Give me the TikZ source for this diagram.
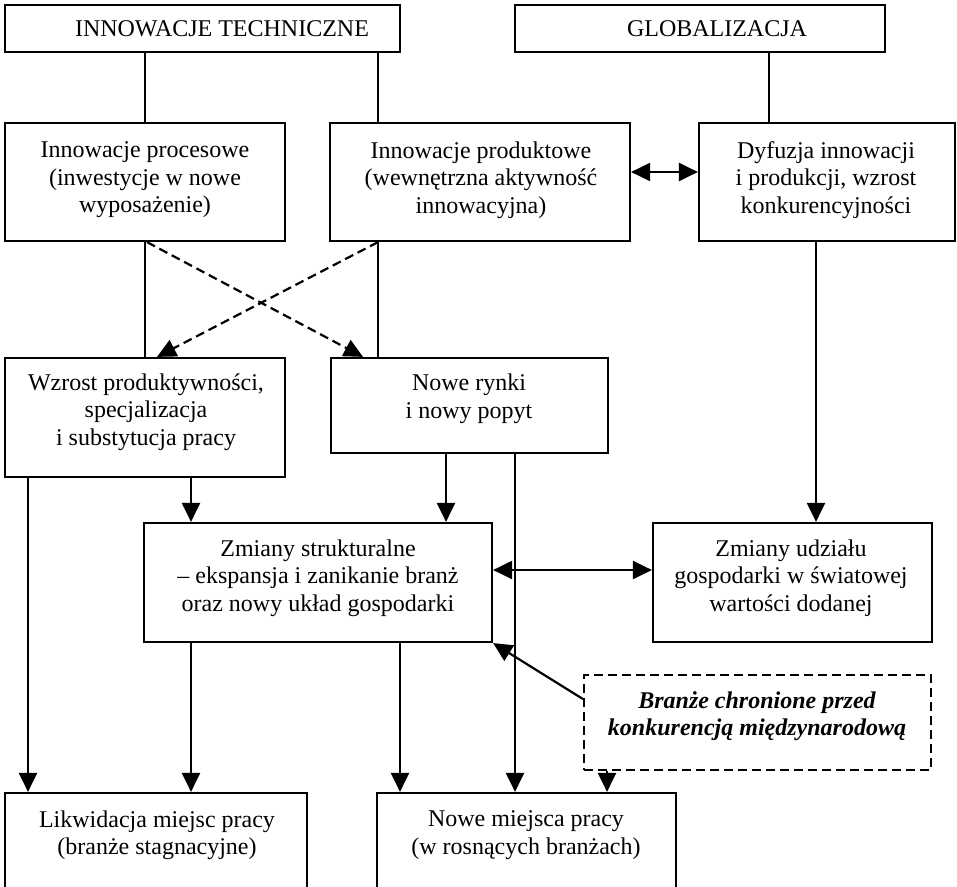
\documentclass[tikz,border=0pt]{standalone}
\usepackage{fontspec}
\setmainfont{Liberation Serif}
\usetikzlibrary{arrows.meta}
\begin{document}
\begin{tikzpicture}[x=1pt,y=-1pt,
  box/.style={draw, line width=2.2pt, inner sep=0pt, rectangle},
  dbox/.style={box, dash pattern=on 9pt off 5pt},
  txt/.style={align=center, font=\fontsize{24}{27.5}\selectfont, inner sep=0pt},
  ln/.style={line width=2.2pt},
  arr/.style={ln, -{Triangle[length=19pt,width=18pt]}},
  darr/.style={ln, {Triangle[length=19pt,width=18pt]}-{Triangle[length=19pt,width=18pt]}},
  dsh/.style={arr, dash pattern=on 9pt off 5pt}]
\fill[white] (0,0) rectangle (957,886);
\useasboundingbox (0,0) rectangle (957,886);

% boxes
\node[box, minimum width=395pt, minimum height=47pt] (it) at (202.5,28.5) {};
\node[box, minimum width=370pt, minimum height=47pt] (gl) at (700,28.5) {};
\node[box, minimum width=280pt, minimum height=118pt] (pr) at (145,182) {};
\node[box, minimum width=300pt, minimum height=118pt] (pd) at (480,182) {};
\node[box, minimum width=256pt, minimum height=118pt] (df) at (827,182) {};
\node[box, minimum width=280pt, minimum height=119pt] (wz) at (145,417.5) {};
\node[box, minimum width=277pt, minimum height=95pt] (nr) at (469.5,405.5) {};
\node[box, minimum width=348pt, minimum height=119pt] (zs) at (318,582.5) {};
\node[box, minimum width=279pt, minimum height=119pt] (zu) at (792.5,582.5) {};
\node[dbox, minimum width=347pt, minimum height=95pt] (br) at (757.5,722.5) {};
\node[box, minimum width=302pt, minimum height=107pt] (lk) at (156,846.5) {};
\node[box, minimum width=299pt, minimum height=107pt] (nm) at (526.5,846.5) {};

% texts
\node[txt] (itT) at (222,29) {INNOWACJE TECHNICZNE};
\node[txt] (glT) at (717,29) {GLOBALIZACJA};
\node[txt] (prT) at (145,180) {Innowacje procesowe\\(inwestycje w nowe\\wyposażenie)};
\node[txt] (pdT) at (481,180) {Innowacje produktowe\\(wewnętrzna aktywność\\innowacyjna)};
\node[txt] (dfT) at (826,180) {Dyfuzja innowacji\\i produkcji, wzrost\\konkurencyjności};
\node[txt] (wzT) at (146,412) {Wzrost produktywności,\\specjalizacja\\i substytucja pracy};
\node[txt] (nrT) at (469,399) {Nowe rynki\\i nowy popyt};
\node[txt] (zsT) at (318,578) {Zmiany strukturalne\\– ekspansja i zanikanie branż\\oraz nowy układ gospodarki};
\node[txt] (zuT) at (791,578) {Zmiany udziału\\gospodarki w światowej\\wartości dodanej};
\node[txt] (brT) at (757,716) {\bfseries\itshape Branże chronione przed\\\bfseries\itshape konkurencją międzynarodową};
\node[txt] (lkT) at (157,835) {Likwidacja miejsc pracy\\(branże stagnacyjne)};
\node[txt] (nmT) at (526,835) {Nowe miejsca pracy\\(w rosnących branżach)};

% helper coordinates
\coordinate (k1) at (378,0);
\coordinate (k2) at (769,0);
\coordinate (k3) at (816,0);
\coordinate (k4) at (191,0);
\coordinate (k5) at (28,0);
\coordinate (k6) at (446,0);
\coordinate (k7) at (515,0);
\coordinate (k8) at (400,0);
\coordinate (k9) at (607,0);
\coordinate (k10) at (0,172);
\coordinate (k11) at (0,570);
\coordinate (k12) at (363,0);
\coordinate (k13) at (157,0);
\coordinate (k14) at (0,699);
\coordinate (k15) at (147,0);

% connectors
\draw[ln] (it.south -| pr) -- (pr.north);
\draw[ln] (it.south -| k1) -- (pd.north -| k1);
\draw[ln] (gl.south -| k2) -- (df.north -| k2);
\draw[darr] (pd.east |- k10) -- (df.west |- k10);
\draw[ln] (pr.south) -- (wz.north);
\draw[ln] (pd.south -| k1) -- (nr.north -| k1);
\draw[dsh] (pr.south -| k15) -- (nr.north -| k12);
\draw[dsh] (pd.south -| k1) -- (wz.north -| k13);
\draw[arr] (df.south -| k3) -- (zu.north -| k3);
\draw[arr] (wz.south -| k4) -- (zs.north -| k4);
\draw[arr] (wz.south -| k5) -- (lk.north -| k5);
\draw[arr] (nr.south -| k6) -- (zs.north -| k6);
\draw[arr] (nr.south -| k7) -- (nm.north -| k7);
\draw[darr] (zs.east |- k11) -- (zu.west |- k11);
\draw[arr] (zs.south -| k4) -- (lk.north -| k4);
\draw[arr] (zs.south -| k8) -- (nm.north -| k8);
\draw[arr] (br.west |- k14) -- (zs.south east);
\draw[arr] (br.south -| k9) -- (nm.north -| k9);
\end{tikzpicture}
\end{document}
